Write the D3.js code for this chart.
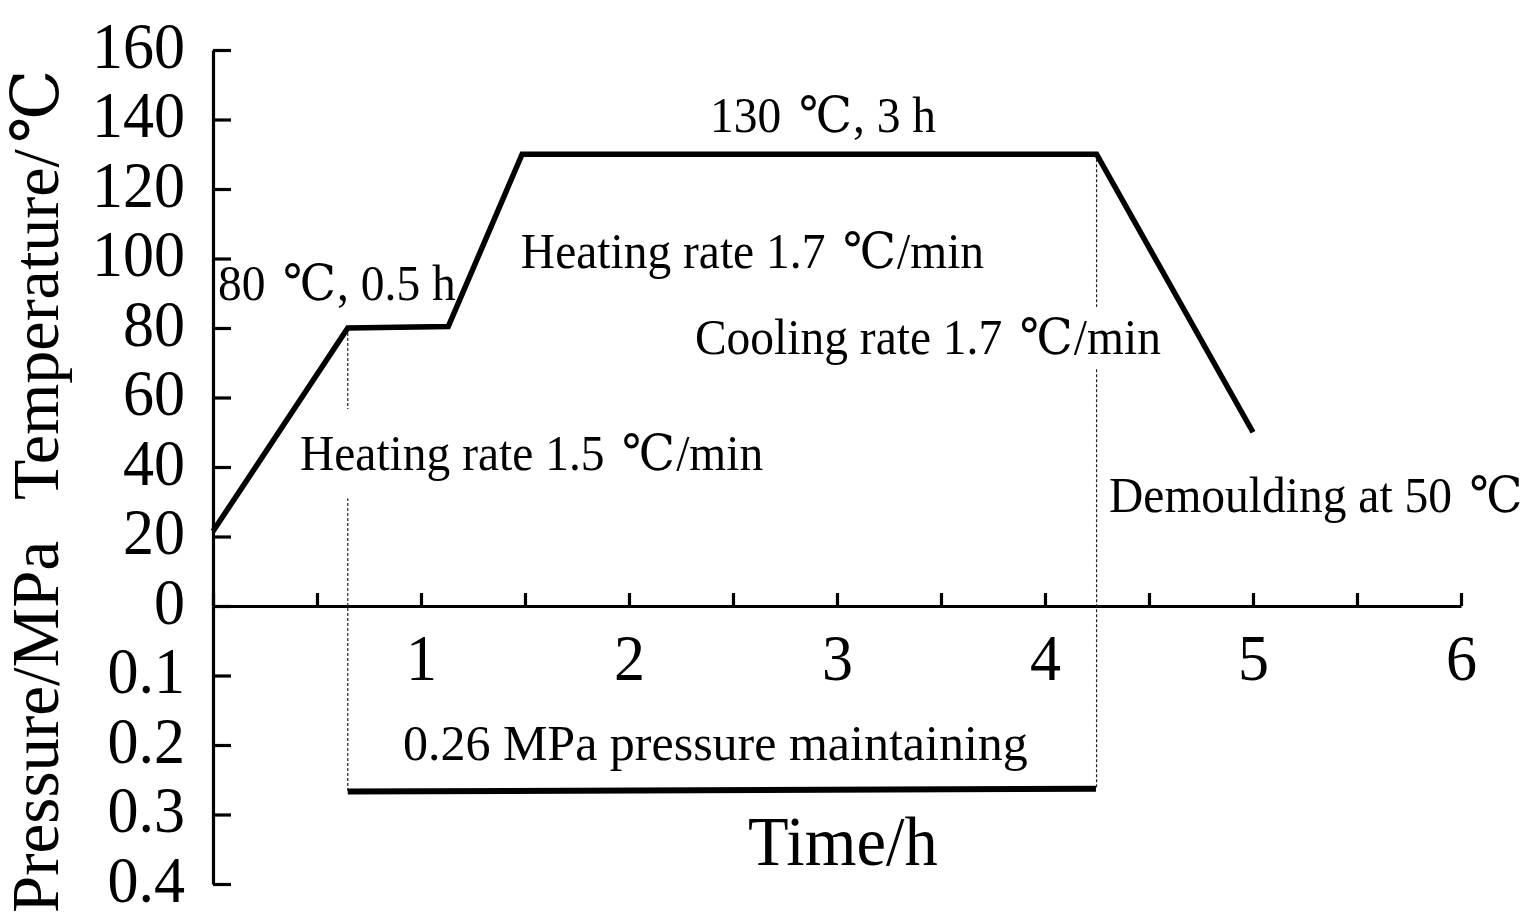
<!DOCTYPE html>
<html>
<head>
<meta charset="utf-8">
<script src="https://cdn.jsdelivr.net/npm/d3@7"></script>
<style>
  html, body { margin: 0; padding: 0; background: #fff; }
  svg { display: block; }
  text { font-family: "Liberation Serif", "Times New Roman", "DejaVu Serif", serif; fill: #000; }
</style>
</head>
<body>
<svg id="chart" width="1527" height="919"></svg>
<script>
// ---- data ----
const timeH   = [0, 0.648, 1.131, 1.486, 4.248, 5.0];
const tempC   = [21.5, 80, 80.4, 130, 130, 50];
const pressT  = [0.648, 4.245];
const pressMPa = [0.267, 0.263];
const xTicks = [0, 0.5, 1, 1.5, 2, 2.5, 3, 3.5, 4, 4.5, 5, 5.5, 6];
const xLabels = [1, 2, 3, 4, 5, 6];
const tempTicks = [0, 20, 40, 60, 80, 100, 120, 140, 160];
const pressTicks = [0.1, 0.2, 0.3, 0.4];
const notes = [
  {text: "130 \u2103, 3 h", t: 2.39, v: 136.4, axis: "T"},
  {text: "80 \u2103, 0.5 h", t: 0.024, v: 88, axis: "T"},
  {text: "Heating rate 1.7 \u2103/min", t: 1.48, v: 97.3, axis: "T"},
  {text: "Cooling rate 1.7 \u2103/min", t: 2.317, v: 72.5, axis: "T", pad: 3},
  {text: "Heating rate 1.5 \u2103/min", t: 0.418, v: 39.1, axis: "T", pad: 17},
  {text: "Demoulding at 50 \u2103", t: 4.308, v: 27, axis: "T"},
  {text: "0.26 MPa pressure maintaining", t: 0.913, v: 0.2216, axis: "P", sx: 1.0}
];

// ---- scales ----
const svg = d3.select("#chart");
const x = d3.scaleLinear().domain([0, 6]).range([213, 1461]);
const yT = d3.scaleLinear().domain([0, 160]).range([606, 50]);
const yP = d3.scaleLinear().domain([0, 0.4]).range([606, 884]);

const tickFont = 66, tickScale = 0.94;

// write text, giving the degree-Celsius glyph a little extra room
function setText(sel, str) {
  const parts = str.split("\u2103");
  parts.forEach((p, i) => {
    if (i > 0) sel.append("tspan").attr("dx", 6).text("\u2103");
    if (p.length) sel.append("tspan").attr("dx", i > 0 ? 1 : 0).text(p);
  });
}

// ---- y axes ----
const gT = svg.append("g").attr("transform", `translate(${x(0)},0)`)
  .call(d3.axisLeft(yT).tickValues(tempTicks).tickSizeInner(-18).tickSizeOuter(0).tickPadding(0).tickFormat(d3.format("d")));
const gP = svg.append("g").attr("transform", `translate(${x(0)},0)`)
  .call(d3.axisLeft(yP).tickValues(pressTicks).tickSizeInner(-18).tickSizeOuter(0).tickPadding(0).tickFormat(d3.format(".1f")));
[gT, gP].forEach(g => {
  g.select(".domain").attr("stroke", "#000").attr("stroke-width", 3.2);
  g.selectAll(".tick line").attr("stroke", "#000").attr("stroke-width", 3.2);
  g.selectAll(".tick text")
    .attr("font-family", null).attr("font-size", tickFont)
    .attr("x", null).attr("dy", null)
    .attr("text-anchor", "end")
    .attr("transform", `translate(-28,17) scale(${tickScale},1)`);
});

// ---- x axis ----
const gX = svg.append("g").attr("transform", `translate(0,${yT(0)})`)
  .call(d3.axisBottom(x).tickValues(xTicks).tickSizeInner(-13).tickSizeOuter(0).tickPadding(0)
    .tickFormat(d => xLabels.includes(d) ? d3.format("d")(d) : ""));
gX.select(".domain").attr("stroke", "#000").attr("stroke-width", 3.2);
gX.selectAll(".tick line").attr("stroke", "#000").attr("stroke-width", 3.2);
gX.selectAll(".tick text")
  .attr("font-family", null).attr("font-size", tickFont)
  .attr("y", null).attr("dy", null)
  .attr("text-anchor", "middle")
  .attr("transform", `translate(0,74) scale(${tickScale},1)`);

// ---- axis titles ----
const tTitle = svg.append("text")
  .attr("transform", `translate(58,${yT(0) - 106}) rotate(-90)`)
  .attr("font-size", 66);
setText(tTitle, "Temperature/\u2103");
svg.append("text")
  .attr("transform", `translate(58,${yP(0.4) + 29}) rotate(-90)`)
  .attr("font-size", 67)
  .text("Pressure/MPa");
svg.append("text")
  .attr("transform", `translate(${x(2.572)},${yP(0.3727)}) scale(0.95,1)`)
  .attr("font-size", 70)
  .text("Time/h");

// ---- guide lines (dashed) ----
const guides = [
  {t: timeH[1], v: tempC[1], p: pressMPa[0]},
  {t: timeH[4], v: tempC[4], p: pressMPa[1]}
];
svg.append("g").selectAll("line").data(guides).join("line")
  .attr("x1", d => x(d.t)).attr("x2", d => x(d.t))
  .attr("y1", d => yT(d.v)).attr("y2", d => yP(d.p))
  .attr("stroke", "#222").attr("stroke-width", 1.2).attr("stroke-dasharray", "3,2");

// ---- annotations (white-backed) ----
const gN = svg.append("g");
notes.forEach(n => {
  const yy = n.axis === "T" ? yT(n.v) : yP(n.v);
  const sx = n.sx || 0.95;
  const g = gN.append("g");
  const rect = g.append("rect").attr("fill", "#fff");
  const t = g.append("text")
    .attr("transform", `translate(${x(n.t)},${yy}) scale(${sx},1)`)
    .attr("font-size", 50);
  setText(t, n.text);
  if (n.pad !== undefined) {
    const b = t.node().getBBox();
    rect.attr("x", x(n.t) + b.x * sx).attr("width", b.width * sx)
      .attr("y", yy + b.y - n.pad).attr("height", b.height + 2 * n.pad);
  } else rect.remove();
});

// ---- temperature curve ----
const tempData = timeH.map((t, i) => ({t, v: tempC[i]}));
svg.append("path").datum(tempData)
  .attr("fill", "none").attr("stroke", "#000").attr("stroke-width", 5.5)
  .attr("stroke-linejoin", "miter")
  .attr("d", d3.line().x(d => x(d.t)).y(d => yT(d.v)));

// ---- pressure line ----
const pressData = pressT.map((t, i) => ({t, v: pressMPa[i]}));
svg.append("path").datum(pressData)
  .attr("fill", "none").attr("stroke", "#000").attr("stroke-width", 6)
  .attr("d", d3.line().x(d => x(d.t)).y(d => yP(d.v)));
</script>
</body>
</html>
